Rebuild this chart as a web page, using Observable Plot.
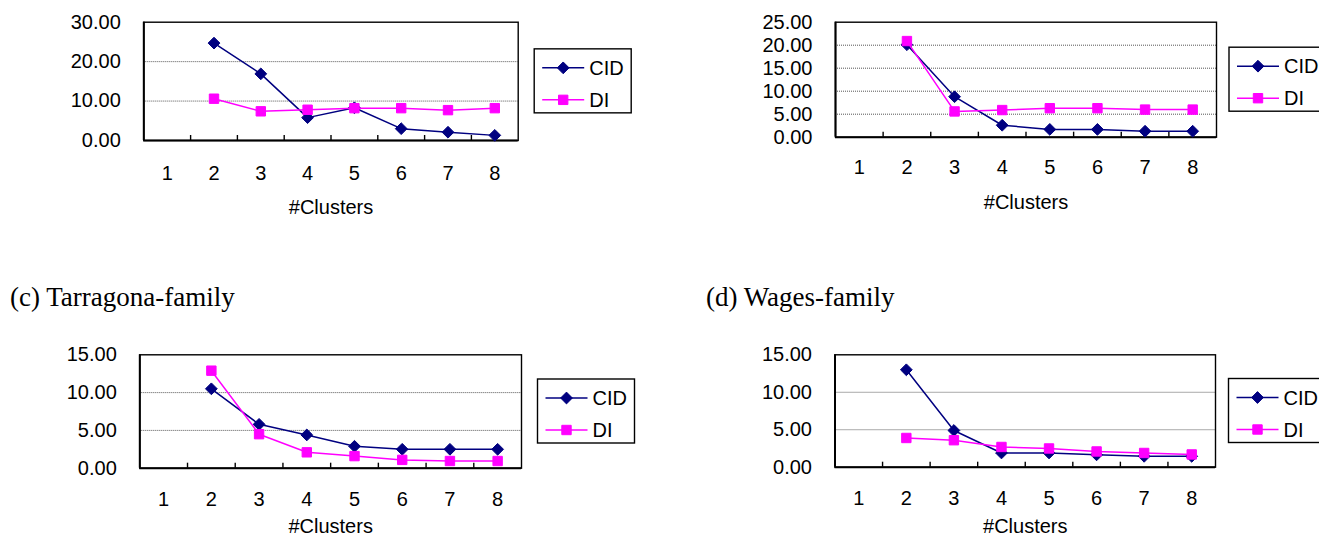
<!DOCTYPE html>
<html>
<head>
<meta charset="utf-8">
<script src="https://cdn.jsdelivr.net/npm/d3@7"></script>
<script src="https://cdn.jsdelivr.net/npm/@observablehq/plot@0.6"></script>
<style>
  html, body { margin: 0; padding: 0; background: #fff; }
  #page { position: relative; width: 1319px; height: 537px; overflow: hidden; background: #fff; }
  .panel { position: absolute; }
  .title { position: absolute; font-family: "Liberation Serif", "Times New Roman", serif; font-size: 27px; color: #000; white-space: nowrap; line-height: 1; }
</style>
</head>
<body>
<div id="page"></div>
<script>
// ---- data ----
const clusterLabels = [1, 2, 3, 4, 5, 6, 7, 8];
const clustersWithValues = [2, 3, 4, 5, 6, 7, 8];
const seriesNames = ["CID", "DI"];

const aCID = [24.7, 16.9, 5.8, 8.3, 3.0, 2.1, 1.3];
const aDI  = [10.6, 7.4, 7.8, 8.2, 8.2, 7.7, 8.2];
const bCID = [20.1, 8.8, 2.6, 1.7, 1.7, 1.3, 1.3];
const bDI  = [20.9, 5.6, 5.9, 6.3, 6.3, 6.0, 6.0];
const cCID = [10.5, 5.8, 4.4, 2.9, 2.5, 2.5, 2.5];
const cDI  = [12.9, 4.5, 2.1, 1.6, 1.1, 0.95, 0.95];
const dCID = [13.0, 4.9, 1.9, 1.9, 1.65, 1.45, 1.45];
const dDI  = [3.9, 3.6, 2.7, 2.5, 2.1, 1.9, 1.7];

const aTicks = [0, 10, 20, 30];
const bTicks = [0, 5, 10, 15, 20, 25];
const cTicks = [0, 5, 10, 15];
const dTicks = [0, 5, 10, 15];

const titleC = "(c) Tarragona-family";
const titleD = "(d) Wages-family";
const xTitle = "#Clusters";

// ---- layout ----
const colors = { CID: "#000080", DI: "#ff00ff" };
const markR = { CID: 5.3, DI: 5.3 };
const panels = [
  { ox: 0,   oy: 0,   w: 660, h: 268, frame: [143.3, 21.7, 517.7, 140],   ticks: aTicks, cid: aCID, di: aDI, xLab: 32, title: 67, legGap: 16.5 },
  { ox: 660, oy: 0,   w: 659, h: 268, frame: [835, 21.7, 1216, 136.7],    ticks: bTicks, cid: bCID, di: bDI, xLab: 30, title: 65, legGap: 13 },
  { ox: 0,   oy: 268, w: 660, h: 269, frame: [139.3, 354.3, 521, 467.7],  ticks: cTicks, cid: cCID, di: cDI, xLab: 30.5, title: 58.5, legGap: 16.5 },
  { ox: 660, oy: 268, w: 659, h: 269, frame: [834.5, 354.3, 1215, 466.7], ticks: dTicks, cid: dCID, di: dDI, xLab: 30.5, title: 59.5, legGap: 13.5 }
];

const page = document.getElementById("page");
const bounds = clusterLabels.slice(0, -1).map(d => d + 0.5);

function rows(vals) { return clustersWithValues.map((c, i) => ({ k: c, v: vals[i] })); }

for (const p of panels) {
  const [fl, ft, fr, fb] = p.frame;
  const fh = fb - ft;
  const yMax = p.ticks[p.ticks.length - 1];
  const grid = p.ticks.slice(1, -1);
  const cid = rows(p.cid), di = rows(p.di);
  const chart = Plot.plot({
    width: p.w,
    height: p.h,
    marginLeft: fl - p.ox,
    marginTop: ft - p.oy,
    marginRight: p.ox + p.w - fr,
    marginBottom: p.oy + p.h - fb,
    style: { background: "transparent", fontFamily: "'Liberation Sans', Arial, sans-serif", fontSize: "20px", color: "#000" },
    x: { type: "linear", domain: [0.5, 8.5] },
    y: { type: "linear", domain: [0, yMax] },
    marks: [
      Plot.gridY(grid, { stroke: "#555", strokeOpacity: 1, strokeWidth: 1, strokeDasharray: "1,1" }),
      Plot.frame({ stroke: "#000", strokeWidth: 1.4 }),
      Plot.ruleX([0.5], { stroke: "#000", strokeWidth: 2 }),
      Plot.ruleY([0], { stroke: "#000", strokeWidth: 2 }),
      Plot.tickX(bounds, { x: d => d, insetTop: fh - 5, stroke: "#000", strokeWidth: 1.4 }),
      Plot.axisY(p.ticks, { tickSize: 0, tickPadding: 23, tickFormat: d3.format(".2f"), label: null, fontSize: 20 }),
      Plot.axisX(clusterLabels, { tickSize: 0, tickPadding: p.xLab - 7, tickFormat: d => String(d), label: null, fontSize: 20 }),
      Plot.text([xTitle], { text: d => d, frameAnchor: "bottom", dy: p.title, lineAnchor: "middle", fontSize: 20 }),
      Plot.line(cid, { x: "k", y: "v", stroke: colors.CID, strokeWidth: 1.5 }),
      Plot.dot(cid, { x: "k", y: "v", symbol: "diamond2", r: markR.CID, fill: colors.CID, stroke: colors.CID, strokeWidth: 1 }),
      Plot.line(di, { x: "k", y: "v", stroke: colors.DI, strokeWidth: 1.5 }),
      Plot.dot(di, { x: "k", y: "v", symbol: "square", r: markR.DI, fill: colors.DI, stroke: colors.DI, strokeWidth: 1 })
    ]
  });
  const holder = document.createElement("div");
  holder.className = "panel";
  holder.style.left = p.ox + "px";
  holder.style.top = p.oy + "px";
  holder.appendChild(chart);
  page.appendChild(holder);

  // legend box (line + marker + label)
  const svg = d3.select(chart);
  const lx = fr - p.ox + p.legGap;
  const lh = 64, lw = 97;
  const ly = (ft + fb) / 2 - p.oy - lh / 2;
  const g = svg.append("g").attr("transform", `translate(${lx},${ly})`);
  g.append("rect").attr("x", 0).attr("y", 0).attr("width", lw).attr("height", lh)
    .attr("fill", "#fff").attr("stroke", "#000").attr("stroke-width", 1.4);
  seriesNames.forEach((name, i) => {
    const yy = 19 + i * 32;
    g.append("line").attr("x1", 8).attr("x2", 50).attr("y1", yy).attr("y2", yy)
      .attr("stroke", colors[name]).attr("stroke-width", 1.5);
    const sym = name === "CID" ? d3.symbolDiamond2 : d3.symbolSquare;
    const rr = markR[name];
    g.append("path").attr("d", d3.symbol(sym, Math.PI * rr * rr)())
      .attr("transform", `translate(29,${yy})`).attr("fill", colors[name]).attr("stroke", colors[name]);
    g.append("text").attr("x", 55).attr("y", yy).attr("dy", "0.36em")
      .attr("text-anchor", "start")
      .attr("font-size", 20).attr("fill", "#000").text(name);
  });
}

// panel titles
function addTitle(text, left, centerY) {
  const t = document.createElement("div");
  t.className = "title";
  t.textContent = text;
  t.style.left = left + "px";
  t.style.top = (centerY - 14) + "px";
  page.appendChild(t);
}
addTitle(titleC, 10, 298);
addTitle(titleD, 706, 298);
</script>
</body>
</html>
